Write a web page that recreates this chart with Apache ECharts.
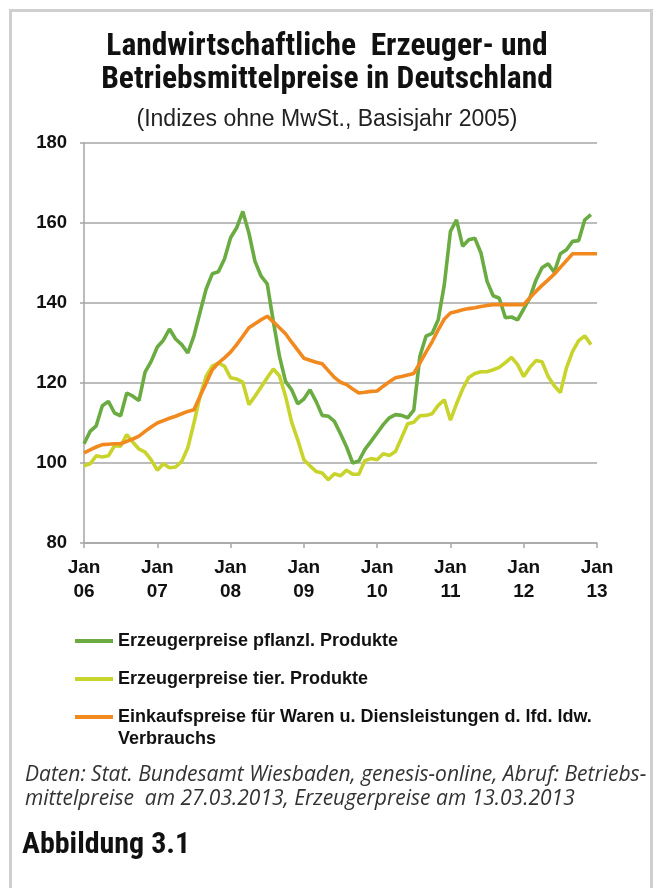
<!DOCTYPE html>
<html>
<head>
<meta charset="utf-8">
<script src="https://cdn.jsdelivr.net/npm/echarts@6/dist/echarts.min.js"></script>
<style>
html,body{margin:0;padding:0;background:#fff;}
#chart{width:654px;height:888px;}
</style>
</head>
<body>
<div id="chart"></div>
<script>
// Month categories Jan 06 .. Jan 13
const years = ['06','07','08','09','10','11','12','13'];
const monthNames = ['Jan','Feb','Mär','Apr','Mai','Jun','Jul','Aug','Sep','Okt','Nov','Dez'];
const categories = [];
for (let y = 0; y < years.length; y++) {
  for (let m = 0; m < 12; m++) {
    if (y === years.length - 1 && m > 0) break;
    categories.push(monthNames[m] + ' ' + years[y]);
  }
}

const seriesNames = [
  'Erzeugerpreise pflanzl. Produkte',
  'Erzeugerpreise tier. Produkte',
  'Einkaufspreise für Waren u. Diensleistungen d. lfd. ldw. Verbrauchs'
];

// Erzeugerpreise pflanzl. Produkte (Jan 06 - Dez 12)
const pflanzl = [
  104.8,107.9,109.3,114.3,115.4,112.5,111.8,117.5,116.7,115.6,122.7,125.4,
  129.0,130.7,133.5,131.0,129.6,127.5,131.8,137.7,143.5,147.3,147.8,151.0,
  156.3,158.8,162.9,157.5,150.4,146.7,144.8,135.4,126.7,120.4,118.3,114.8,
  116.0,118.3,115.4,111.9,111.7,110.4,107.3,104.0,100.0,100.5,103.4,105.4,
  107.5,109.6,111.3,112.1,111.9,111.3,113.2,126.7,131.7,132.4,135.8,144.6,
  157.9,160.8,154.2,155.8,156.2,152.5,145.4,141.8,141.2,136.3,136.5,135.8,
  138.5,141.3,145.7,148.8,149.8,147.7,152.3,153.3,155.4,155.6,160.8,162.1
];

// Erzeugerpreise tier. Produkte (Jan 06 - Dez 12)
const tier = [
  99.3,99.8,101.8,101.5,101.8,104.3,104.2,107.1,105.2,103.5,102.7,100.8,
  98.2,99.8,98.8,99.0,100.4,103.8,110.0,116.7,121.7,124.2,125.0,124.2,
  121.3,121.0,120.2,114.6,116.7,119.0,121.3,123.5,121.8,116.7,110.2,105.8,
  100.8,99.3,97.9,97.5,95.8,97.3,96.8,98.2,97.2,97.2,100.6,101.1,
  100.8,102.3,101.9,102.9,106.3,109.8,110.2,111.8,111.9,112.3,114.4,115.8,
  110.7,114.8,118.5,121.4,122.4,122.8,122.8,123.3,123.9,125.1,126.4,124.6,
  121.6,123.9,125.6,125.3,121.6,119.3,117.6,123.8,127.9,130.6,131.8,129.6
];

// Einkaufspreise für Waren u. Dienstleistungen (Jan 06 - Jan 13)
const einkauf = [
  102.5,103.3,104.0,104.6,104.7,104.8,104.8,105.4,106.0,106.7,107.9,109.0,
  110.0,110.6,111.2,111.7,112.3,112.9,113.3,116.7,120.0,123.3,125.0,126.3,
  127.7,129.6,131.7,133.8,134.8,135.8,136.7,135.3,133.8,132.3,130.2,128.2,
  126.2,125.7,125.2,124.8,123.1,121.4,120.2,119.6,118.5,117.5,117.7,117.9,
  118.0,119.2,120.3,121.3,121.6,122.0,122.4,125.0,127.7,130.3,133.3,136.0,
  137.5,137.9,138.3,138.6,138.8,139.1,139.4,139.6,139.6,139.6,139.6,139.6,
  139.6,141.3,142.9,144.4,145.8,147.2,148.9,150.6,152.3,152.3,152.3,152.3,
  152.3
];

const yTicks = { min: 80, max: 180, interval: 20 };
const colors = ['#6aab42', '#c8d42c', '#f2891f'];

const gridGray = '#a6a6a6';
const axisFont = 'Liberation Sans, Arial, sans-serif';
const condFont = '"Roboto Condensed", Roboto, sans-serif';

const chart = echarts.init(document.getElementById('chart'), null, { renderer: 'canvas' });

const legendText = {
  fontFamily: axisFont,
  fontWeight: 'bold',
  fontSize: 18,
  color: '#111',
  lineHeight: 22
};

function legendFor(i, top, extra) {
  return Object.assign({
    data: [seriesNames[i]],
    left: 75,
    top: top,
    orient: 'vertical',
    padding: 0,
    itemWidth: 38,
    itemHeight: 4,
    itemGap: 4,
    icon: 'rect',
    selectedMode: false,
    textStyle: legendText
  }, extra || {});
}

const option = {
  animation: false,
  backgroundColor: '#ffffff',
  color: colors,
  title: [
    {
      text: 'Landwirtschaftliche  Erzeuger- und\nBetriebsmittelpreise in Deutschland',
      left: 'center',
      top: 26,
      textStyle: {
        fontFamily: condFont,
        fontWeight: 'bold',
        fontSize: 31.5,
        lineHeight: 33,
        color: '#111'
      }
    },
    {
      text: '(Indizes ohne MwSt., Basisjahr 2005)',
      left: 'center',
      top: 103,
      textStyle: {
        fontFamily: axisFont,
        fontWeight: 'normal',
        fontSize: 23,
        color: '#222'
      }
    }
  ],
  legend: [
    legendFor(0, 630),
    legendFor(1, 668),
    legendFor(2, 684, {
      formatter: function () {
        return '{e| }\n{a|Einkaufspreise für Waren u. Diensleistungen d. lfd. ldw.}\n{a|Verbrauchs}';
      },
      textStyle: Object.assign({}, legendText, {
        rich: {
          e: { fontFamily: axisFont, fontWeight: 'bold', fontSize: 18, lineHeight: 22, color: '#111' },
          a: { fontFamily: axisFont, fontWeight: 'bold', fontSize: 18, lineHeight: 22, color: '#111' }
        }
      })
    })
  ],
  grid: {
    left: 84,
    right: 57,
    top: 143,
    bottom: 345,
    containLabel: false
  },
  xAxis: {
    type: 'category',
    data: categories,
    boundaryGap: false,
    axisLine: { lineStyle: { color: gridGray, width: 1.5 } },
    axisTick: {
      show: true,
      length: 5,
      interval: function (idx) { return idx % 12 === 0; },
      lineStyle: { color: gridGray, width: 1.5 }
    },
    axisLabel: {
      interval: function (idx) { return idx % 12 === 0; },
      formatter: function (val) {
        const p = val.split(' ');
        return p[0] + '\n' + p[1];
      },
      margin: 13,
      fontFamily: axisFont,
      fontWeight: 'bold',
      fontSize: 19,
      lineHeight: 24,
      color: '#111'
    },
    splitLine: { show: false }
  },
  yAxis: {
    type: 'value',
    min: yTicks.min,
    max: yTicks.max,
    interval: yTicks.interval,
    axisLine: { show: true, lineStyle: { color: gridGray, width: 1.5 } },
    axisTick: { show: true, length: 4, lineStyle: { color: gridGray, width: 1.5 } },
    axisLabel: {
      margin: 17,
      fontFamily: axisFont,
      fontWeight: 'bold',
      fontSize: 18.5,
      color: '#111'
    },
    splitLine: { show: true, lineStyle: { color: gridGray, width: 1.5 } }
  },
  series: [
    { name: seriesNames[0], type: 'line', data: pflanzl, showSymbol: false, lineStyle: { width: 3.6, color: colors[0] }, itemStyle: { color: colors[0] }, z: 3 },
    { name: seriesNames[1], type: 'line', data: tier, showSymbol: false, lineStyle: { width: 3.6, color: colors[1] }, itemStyle: { color: colors[1] }, z: 2 },
    { name: seriesNames[2], type: 'line', data: einkauf, showSymbol: false, lineStyle: { width: 3.6, color: colors[2] }, itemStyle: { color: colors[2] }, z: 4 }
  ],
  graphic: [
    {
      type: 'rect',
      shape: { x: 10.5, y: 10.5, width: 641, height: 890 },
      style: { fill: 'none', stroke: '#cfcfcf', lineWidth: 3 },
      silent: true, z: -1
    },
    {
      type: 'text',
      left: 25,
      top: 763,
      style: {
        text: 'Daten: Stat. Bundesamt Wiesbaden, genesis-online, Abruf: Betriebs-\nmittelpreise  am 27.03.2013, Erzeugerpreise am 13.03.2013',
        fontFamily: '"Open Sans", sans-serif',
        fontStyle: 'italic',
        fontSize: 21,
        lineHeight: 24,
        fill: '#333'
      }
    },
    {
      type: 'text',
      left: 22,
      top: 830,
      style: {
        text: 'Abbildung 3.1',
        fontFamily: condFont,
        fontWeight: 'bold',
        fontSize: 30,
        fill: '#111'
      }
    }
  ]
};

chart.setOption(option);
</script>
</body>
</html>
